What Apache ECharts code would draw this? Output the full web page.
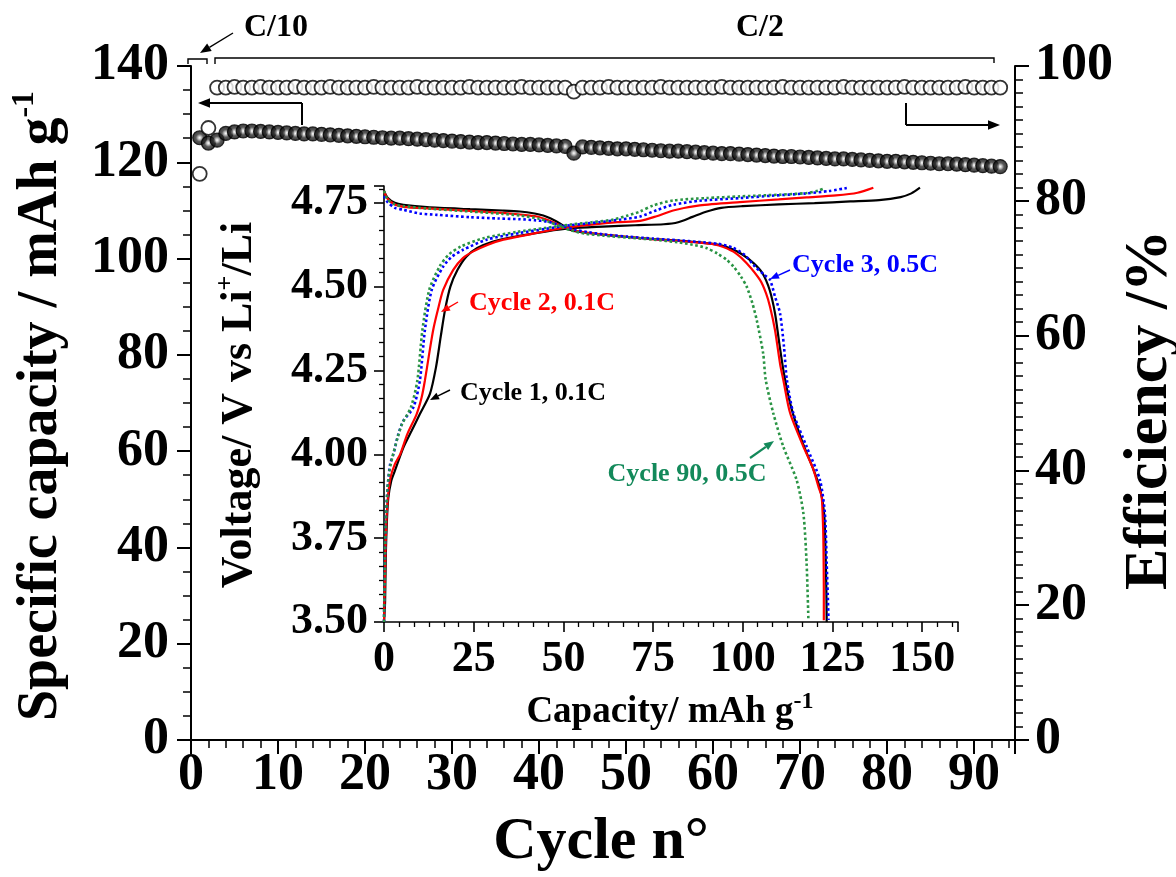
<!DOCTYPE html>
<html>
<head>
<meta charset="utf-8">
<script src="https://cdn.jsdelivr.net/npm/echarts@6/dist/echarts.min.js"></script>
<style>
  html, body { margin: 0; padding: 0; background: #fff; }
  #chart { width: 1176px; height: 877px; }
</style>
</head>
<body>
<div id="chart"></div>
<script>
// cycling data (main plot)
const capacity = [
  125.1, 124.0, 124.6, 126.0, 126.3, 126.5, 126.5, 126.4, 126.3, 126.2,
  126.1, 126.0, 125.9, 125.9, 125.8, 125.7, 125.6, 125.5, 125.4, 125.3,
  125.2, 125.1, 125.0, 125.0, 124.9, 124.8, 124.7, 124.6, 124.5, 124.4,
  124.3, 124.2, 124.1, 124.1, 124.0, 123.9, 123.8, 123.7, 123.7, 123.6,
  123.5, 123.4, 123.3, 121.9, 123.2, 123.1, 123.0, 122.9, 122.8, 122.8,
  122.7, 122.6, 122.5, 122.4, 122.3, 122.3, 122.2, 122.1, 122.0, 121.9,
  121.8, 121.8, 121.7, 121.6, 121.5, 121.4, 121.3, 121.2, 121.2, 121.1,
  121.0, 120.9, 120.8, 120.7, 120.7, 120.6, 120.5, 120.4, 120.3, 120.2,
  120.2, 120.1, 120.0, 119.9, 119.8, 119.7, 119.7, 119.6, 119.5, 119.4,
  119.3, 119.2, 119.1
];
const efficiency = [
  84.0, 90.8, 96.8, 96.8, 96.9, 96.8, 96.8, 96.9, 96.8, 96.8,
  96.8, 96.9, 96.8, 96.8, 96.8, 96.9, 96.8, 96.8, 96.8, 96.8,
  96.9, 96.8, 96.8, 96.8, 96.8, 96.9, 96.8, 96.8, 96.8, 96.8,
  96.8, 96.9, 96.8, 96.8, 96.8, 96.8, 96.8, 96.9, 96.8, 96.8,
  96.8, 96.8, 96.8, 96.2, 96.8, 96.8, 96.8, 96.9, 96.8, 96.8,
  96.8, 96.8, 96.8, 96.9, 96.8, 96.8, 96.8, 96.8, 96.8, 96.8,
  96.9, 96.8, 96.8, 96.8, 96.8, 96.8, 96.8, 96.9, 96.8, 96.8,
  96.8, 96.8, 96.8, 96.8, 96.9, 96.8, 96.8, 96.8, 96.8, 96.8,
  96.8, 96.9, 96.8, 96.8, 96.8, 96.8, 96.8, 96.8, 96.9, 96.8,
  96.8, 96.8, 96.8
];
const cycles = capacity.map((_, i) => i + 1);

// voltage profiles (inset), [capacity mAh/g, voltage V]
const cyc1Charge = [[0.0,3.50],[0.3,3.56],[0.5,3.70],[0.8,3.80],[1.2,3.87],[2.0,3.92],[3.0,3.95],[5.4,4.02],[7.7,4.07],[10.0,4.12],[12.8,4.18],[14.5,4.26],[15.8,4.35],[17.0,4.43],[18.5,4.50],[20.5,4.55],[23.0,4.59],[26.0,4.615],[30.0,4.633],[36.0,4.648],[45.0,4.664],[52.0,4.674],[61.0,4.679],[70.0,4.683],[78.0,4.686],[82.0,4.692],[86.0,4.708],[90.0,4.724],[94.0,4.735],[100.0,4.740],[110.0,4.745],[120.0,4.749],[130.0,4.754],[138.0,4.758],[144.0,4.767],[147.0,4.778],[149.4,4.795]];
const cyc2Charge = [[0.0,3.50],[0.2,3.60],[0.5,3.75],[1.0,3.86],[1.8,3.93],[3.0,3.97],[4.5,4.00],[6.5,4.06],[9.1,4.12],[10.5,4.17],[11.4,4.22],[12.6,4.30],[13.7,4.37],[15.0,4.43],[16.5,4.49],[19.3,4.55],[22.0,4.585],[24.9,4.605],[29.0,4.625],[33.3,4.64],[42.6,4.66],[50.0,4.675],[58.0,4.685],[65.0,4.692],[71.4,4.696],[76.0,4.710],[80.6,4.727],[88.0,4.742],[99.2,4.752],[110.0,4.760],[117.8,4.766],[126.0,4.772],[132.0,4.780],[136.4,4.795]];
const cyc3Charge = [[0.0,3.50],[0.2,3.65],[0.5,3.80],[1.0,3.90],[1.7,3.97],[2.6,4.00],[4.0,4.06],[5.4,4.10],[8.2,4.14],[10.0,4.22],[11.4,4.37],[13.3,4.49],[16.5,4.56],[19.0,4.59],[22.1,4.61],[28.6,4.64],[37.9,4.66],[45.0,4.672],[52.0,4.683],[60.0,4.692],[66.0,4.700],[71.4,4.709],[76.0,4.728],[80.6,4.744],[88.0,4.756],[99.2,4.764],[108.0,4.771],[117.8,4.778],[124.0,4.785],[129.0,4.794]];
const cyc90Charge = [[0.0,3.50],[0.2,3.65],[0.5,3.80],[1.0,3.90],[1.5,3.95],[2.3,3.99],[3.8,4.05],[5.0,4.09],[7.5,4.14],[9.3,4.22],[10.7,4.37],[12.6,4.49],[15.5,4.56],[18.0,4.595],[21.5,4.62],[28.0,4.645],[37.0,4.663],[45.0,4.675],[52.0,4.685],[58.0,4.692],[64.0,4.700],[68.0,4.712],[71.4,4.724],[75.0,4.742],[80.6,4.757],[90.0,4.764],[99.2,4.769],[110.0,4.774],[117.8,4.779],[121.0,4.786],[122.9,4.794]];

const cyc1Dis = [[0,4.785],[1,4.765],[3,4.750],[5.4,4.744],[12,4.737],[24,4.731],[33,4.727],[37.9,4.724],[42,4.718],[44.4,4.712],[46.5,4.703],[48.1,4.694],[50,4.682],[51.8,4.670],[55,4.662],[61.1,4.655],[68,4.648],[75.1,4.642],[82,4.637],[88,4.632],[93,4.625],[97,4.612],[100,4.595],[103,4.570],[105.5,4.540],[107.5,4.490],[109,4.420],[110.2,4.330],[111.5,4.240],[113.5,4.140],[116.5,4.040],[119.5,3.960],[121.5,3.900],[122.7,3.820],[123.1,3.700],[123.3,3.600],[123.4,3.500]];
const cyc2Dis = [[0,4.785],[1,4.762],[3,4.745],[5.4,4.738],[12,4.733],[24,4.726],[33,4.720],[38,4.715],[42.6,4.709],[46,4.697],[50,4.679],[53,4.668],[57,4.660],[61.1,4.655],[68,4.648],[75.1,4.641],[82,4.636],[88,4.631],[92,4.626],[94.6,4.618],[98,4.600],[101.1,4.570],[104.8,4.520],[106.5,4.480],[107.6,4.440],[109,4.370],[110.4,4.270],[111.3,4.222],[113.2,4.123],[116.9,4.023],[119.5,3.960],[121.2,3.900],[122.0,3.874],[122.4,3.780],[122.5,3.725],[122.6,3.600],[122.6,3.505]];
const cyc3Dis = [[0,4.770],[1,4.752],[3,4.735],[5.4,4.729],[10,4.718],[14.7,4.714],[24,4.707],[32,4.703],[37.9,4.701],[42,4.698],[45.4,4.694],[48,4.687],[50,4.680],[53,4.670],[57,4.662],[61.1,4.656],[68,4.649],[75.1,4.643],[82,4.638],[88,4.633],[93,4.628],[97,4.617],[100.5,4.595],[103.4,4.560],[106,4.535],[107.6,4.520],[109,4.470],[110.4,4.420],[111.5,4.320],[112.3,4.222],[114.1,4.123],[117.8,4.023],[121.5,3.924],[122.9,3.824],[123.4,3.675],[123.7,3.580],[123.9,3.506]];
const cyc90Dis = [[0,4.785],[1,4.760],[3,4.745],[5.4,4.740],[12,4.733],[24,4.724],[33,4.717],[38,4.712],[43,4.703],[46,4.693],[49,4.680],[52,4.668],[56,4.658],[61.1,4.652],[68,4.646],[75.1,4.640],[82,4.632],[86,4.625],[89.9,4.615],[93,4.598],[95.5,4.580],[97.4,4.560],[99.5,4.530],[101.1,4.500],[102.7,4.450],[103.9,4.400],[105.7,4.300],[106.4,4.222],[108.5,4.123],[111.3,4.023],[115.0,3.924],[116.9,3.824],[117.8,3.675],[118.3,3.506]];

const FONT = '"Liberation Serif", "Times New Roman", serif';
const GREEN = '#2a9444';

const chart = echarts.init(document.getElementById('chart'));

function label(size, extra) {
  return Object.assign({ fontFamily: FONT, fontWeight: 'bold', fontSize: size, color: '#000' }, extra || {});
}

// simple arrow: line plus filled head at (x2, y2)
function arrow(x1, y1, x2, y2, color, head, lw) {
  const a = Math.atan2(y2 - y1, x2 - x1);
  const h = head || 11, w = h * 0.4;
  const bx = x2 - h * Math.cos(a), by = y2 - h * Math.sin(a);
  return [
    { type: 'line', z: 100, shape: { x1: x1, y1: y1, x2: bx, y2: by }, style: { stroke: color, lineWidth: lw || 1.6 } },
    { type: 'polygon', z: 100, shape: { points: [[x2, y2], [bx + w * Math.sin(a), by - w * Math.cos(a)], [bx - w * Math.sin(a), by + w * Math.cos(a)]] }, style: { fill: color } }
  ];
}

function text(str, x, y, size, color, rot, rich) {
  return {
    type: 'text', z: 100, x: x, y: y, rotation: rot || 0,
    style: {
      text: str, fill: color || '#000', fontFamily: FONT, fontWeight: 'bold', fontSize: size,
      align: 'center', verticalAlign: 'middle', rich: rich
    }
  };
}

function supRich(size, base) {
  return {
    b: { fontFamily: FONT, fontWeight: 'bold', fontSize: base, lineHeight: base * 1.2, fill: '#000' },
    s: { fontFamily: FONT, fontWeight: 'bold', fontSize: size, lineHeight: size, verticalAlign: 'top', fill: '#000' }
  };
}

const ball = {
  type: 'radial', x: 0.5, y: 0.5, r: 0.5,
  colorStops: [
    { offset: 0, color: '#ffffff' },
    { offset: 0.22, color: '#b0b0b0' },
    { offset: 0.5, color: '#303030' },
    { offset: 1, color: '#000' }
  ]
};

const mainAxisLine = { lineStyle: { color: '#000', width: 2 } };
const insetAxisLine = { lineStyle: { color: '#000', width: 1.6 } };

const graphics = [].concat(
  [
    text('{b|Specific capacity / mAh g}{s|-1}', 42, 406, 56, '#000', Math.PI / 2, supRich(32, 56)),
    text('Efficiency /%', 1150, 410, 62, '#000', Math.PI / 2),
    text('Cycle n°', 601, 842, 60),
    text('{b|Voltage/ V vs Li}{s|+}{b|/Li}', 240, 405, 44, '#000', Math.PI / 2, supRich(26, 44)),
    text('{b|Capacity/ mAh g}{s|-1}', 670, 712, 37, '#000', 0, supRich(24, 37)),
    text('C/10', 276, 28, 32),
    text('C/2', 760, 28, 32),
    text('Cycle 2, 0.1C', 542, 303, 26, '#ff0000'),
    text('Cycle 1, 0.1C', 533, 393, 26, '#000'),
    text('Cycle 3, 0.5C', 865, 265, 26, '#0000ff'),
    text('Cycle 90, 0.5C', 687, 474, 26, '#13895a'),
    { type: 'polyline', z: 100, shape: { points: [[188, 64], [188, 59], [207, 59], [207, 64]] }, style: { stroke: '#000', lineWidth: 1.4, fill: null } },
    { type: 'polyline', z: 100, shape: { points: [[215, 64], [215, 58], [994, 58], [994, 63]] }, style: { stroke: '#000', lineWidth: 1.4, fill: null } },
    { type: 'line', z: 100, shape: { x1: 302, y1: 125, x2: 302, y2: 103 }, style: { stroke: '#000', lineWidth: 2 } },
    { type: 'line', z: 100, shape: { x1: 906, y1: 103, x2: 906, y2: 125 }, style: { stroke: '#000', lineWidth: 2 } },
    { type: 'line', z: 100, shape: { x1: 178, y1: 740, x2: 191, y2: 740 }, style: { stroke: '#000', lineWidth: 2 } }
  ],
  arrow(302, 103, 198, 103, '#000', 12, 2),
  arrow(906, 125, 1000, 125, '#000', 12, 2),
  arrow(233, 33, 200, 53, '#000', 11, 1.4),
  arrow(458, 302, 441, 312, '#ff0000', 9, 1.4),
  arrow(450, 390, 430, 400, '#000', 9, 1.4),
  arrow(790, 270, 770, 279, '#0000ff', 9, 1.4),
  arrow(750, 458, 774, 441, '#13895a', 10, 2.2)
);

function profile(name, data, color, dashed) {
  return {
    name: name, type: 'line', xAxisIndex: 1, yAxisIndex: 2,
    data: data, showSymbol: false, smooth: 0.25,
    lineStyle: { color: color, width: dashed ? 2.6 : 2.2, type: dashed ? 'dotted' : 'solid' }
  };
}

const option = {
  animation: false,
  backgroundColor: '#fff',
  grid: [
    { left: 191, right: 161, top: 66, bottom: 137 },
    { left: 384, right: 218, top: 186, bottom: 255 }
  ],
  xAxis: [
    {
      gridIndex: 0, type: 'value', min: 0, max: 94.7, interval: 10,
      axisLine: mainAxisLine,
      axisTick: { length: 14, lineStyle: { width: 2, color: '#000' } },
      minorTick: { show: true, splitNumber: 5, length: 8, lineStyle: { width: 1.5, color: '#000' } },
      axisLabel: label(52, { margin: 10, showMaxLabel: false }),
      splitLine: { show: false }
    },
    {
      gridIndex: 1, type: 'value', min: 0, max: 160, interval: 25,
      axisLine: insetAxisLine,
      axisTick: { length: 10, lineStyle: { width: 1.6, color: '#000' } },
      minorTick: { show: true, splitNumber: 6, length: 5, lineStyle: { width: 1.3, color: '#000' } },
      axisLabel: label(44, { margin: 16, showMaxLabel: false }),
      splitLine: { show: false }
    }
  ],
  yAxis: [
    {
      gridIndex: 0, type: 'value', min: 0, max: 140, interval: 20, position: 'left',
      axisLine: Object.assign({ show: true }, mainAxisLine),
      axisTick: { show: true, length: 14, lineStyle: { width: 2, color: '#000' } },
      minorTick: { show: true, splitNumber: 4, length: 8, lineStyle: { width: 1.5, color: '#000' } },
      axisLabel: label(52, { margin: 22 }),
      splitLine: { show: false }
    },
    {
      gridIndex: 0, type: 'value', min: 0, max: 100, interval: 20, position: 'right',
      axisLine: Object.assign({ show: true }, mainAxisLine),
      axisTick: { show: true, length: 14, lineStyle: { width: 2, color: '#000' } },
      minorTick: { show: true, splitNumber: 10, length: 8, lineStyle: { width: 1.5, color: '#000' } },
      axisLabel: label(52, { margin: 20 }),
      splitLine: { show: false }
    },
    {
      gridIndex: 1, type: 'value', min: 3.5, max: 4.8, interval: 0.25,
      axisLine: Object.assign({ show: true }, insetAxisLine),
      axisTick: { show: true, length: 10, lineStyle: { width: 1.6, color: '#000' } },
      minorTick: { show: true, splitNumber: 6, length: 5, lineStyle: { width: 1.3, color: '#000' } },
      axisLabel: label(44, { margin: 16, showMaxLabel: false, formatter: v => v.toFixed(2) }),
      splitLine: { show: false }
    }
  ],
  series: [
    {
      name: 'Capacity', type: 'scatter', xAxisIndex: 0, yAxisIndex: 0,
      data: cycles.map((c, i) => [c, capacity[i]]),
      symbol: 'circle', symbolSize: 14,
      itemStyle: { color: ball, borderColor: '#000', borderWidth: 1.2 }
    },
    {
      name: 'Efficiency', type: 'scatter', xAxisIndex: 0, yAxisIndex: 1,
      data: cycles.map((c, i) => [c, efficiency[i]]),
      symbol: 'circle', symbolSize: 14,
      itemStyle: { color: '#fff', borderColor: '#000', borderWidth: 1.8 }
    },
    profile('Cycle 1 charge', cyc1Charge, '#000', false),
    profile('Cycle 1 discharge', cyc1Dis, '#000', false),
    profile('Cycle 2 charge', cyc2Charge, '#ff0000', false),
    profile('Cycle 2 discharge', cyc2Dis, '#ff0000', false),
    profile('Cycle 3 charge', cyc3Charge, '#0000ff', true),
    profile('Cycle 3 discharge', cyc3Dis, '#0000ff', true),
    profile('Cycle 90 charge', cyc90Charge, GREEN, true),
    profile('Cycle 90 discharge', cyc90Dis, GREEN, true)
  ],
  graphic: graphics
};

chart.setOption(option);
</script>
</body>
</html>
